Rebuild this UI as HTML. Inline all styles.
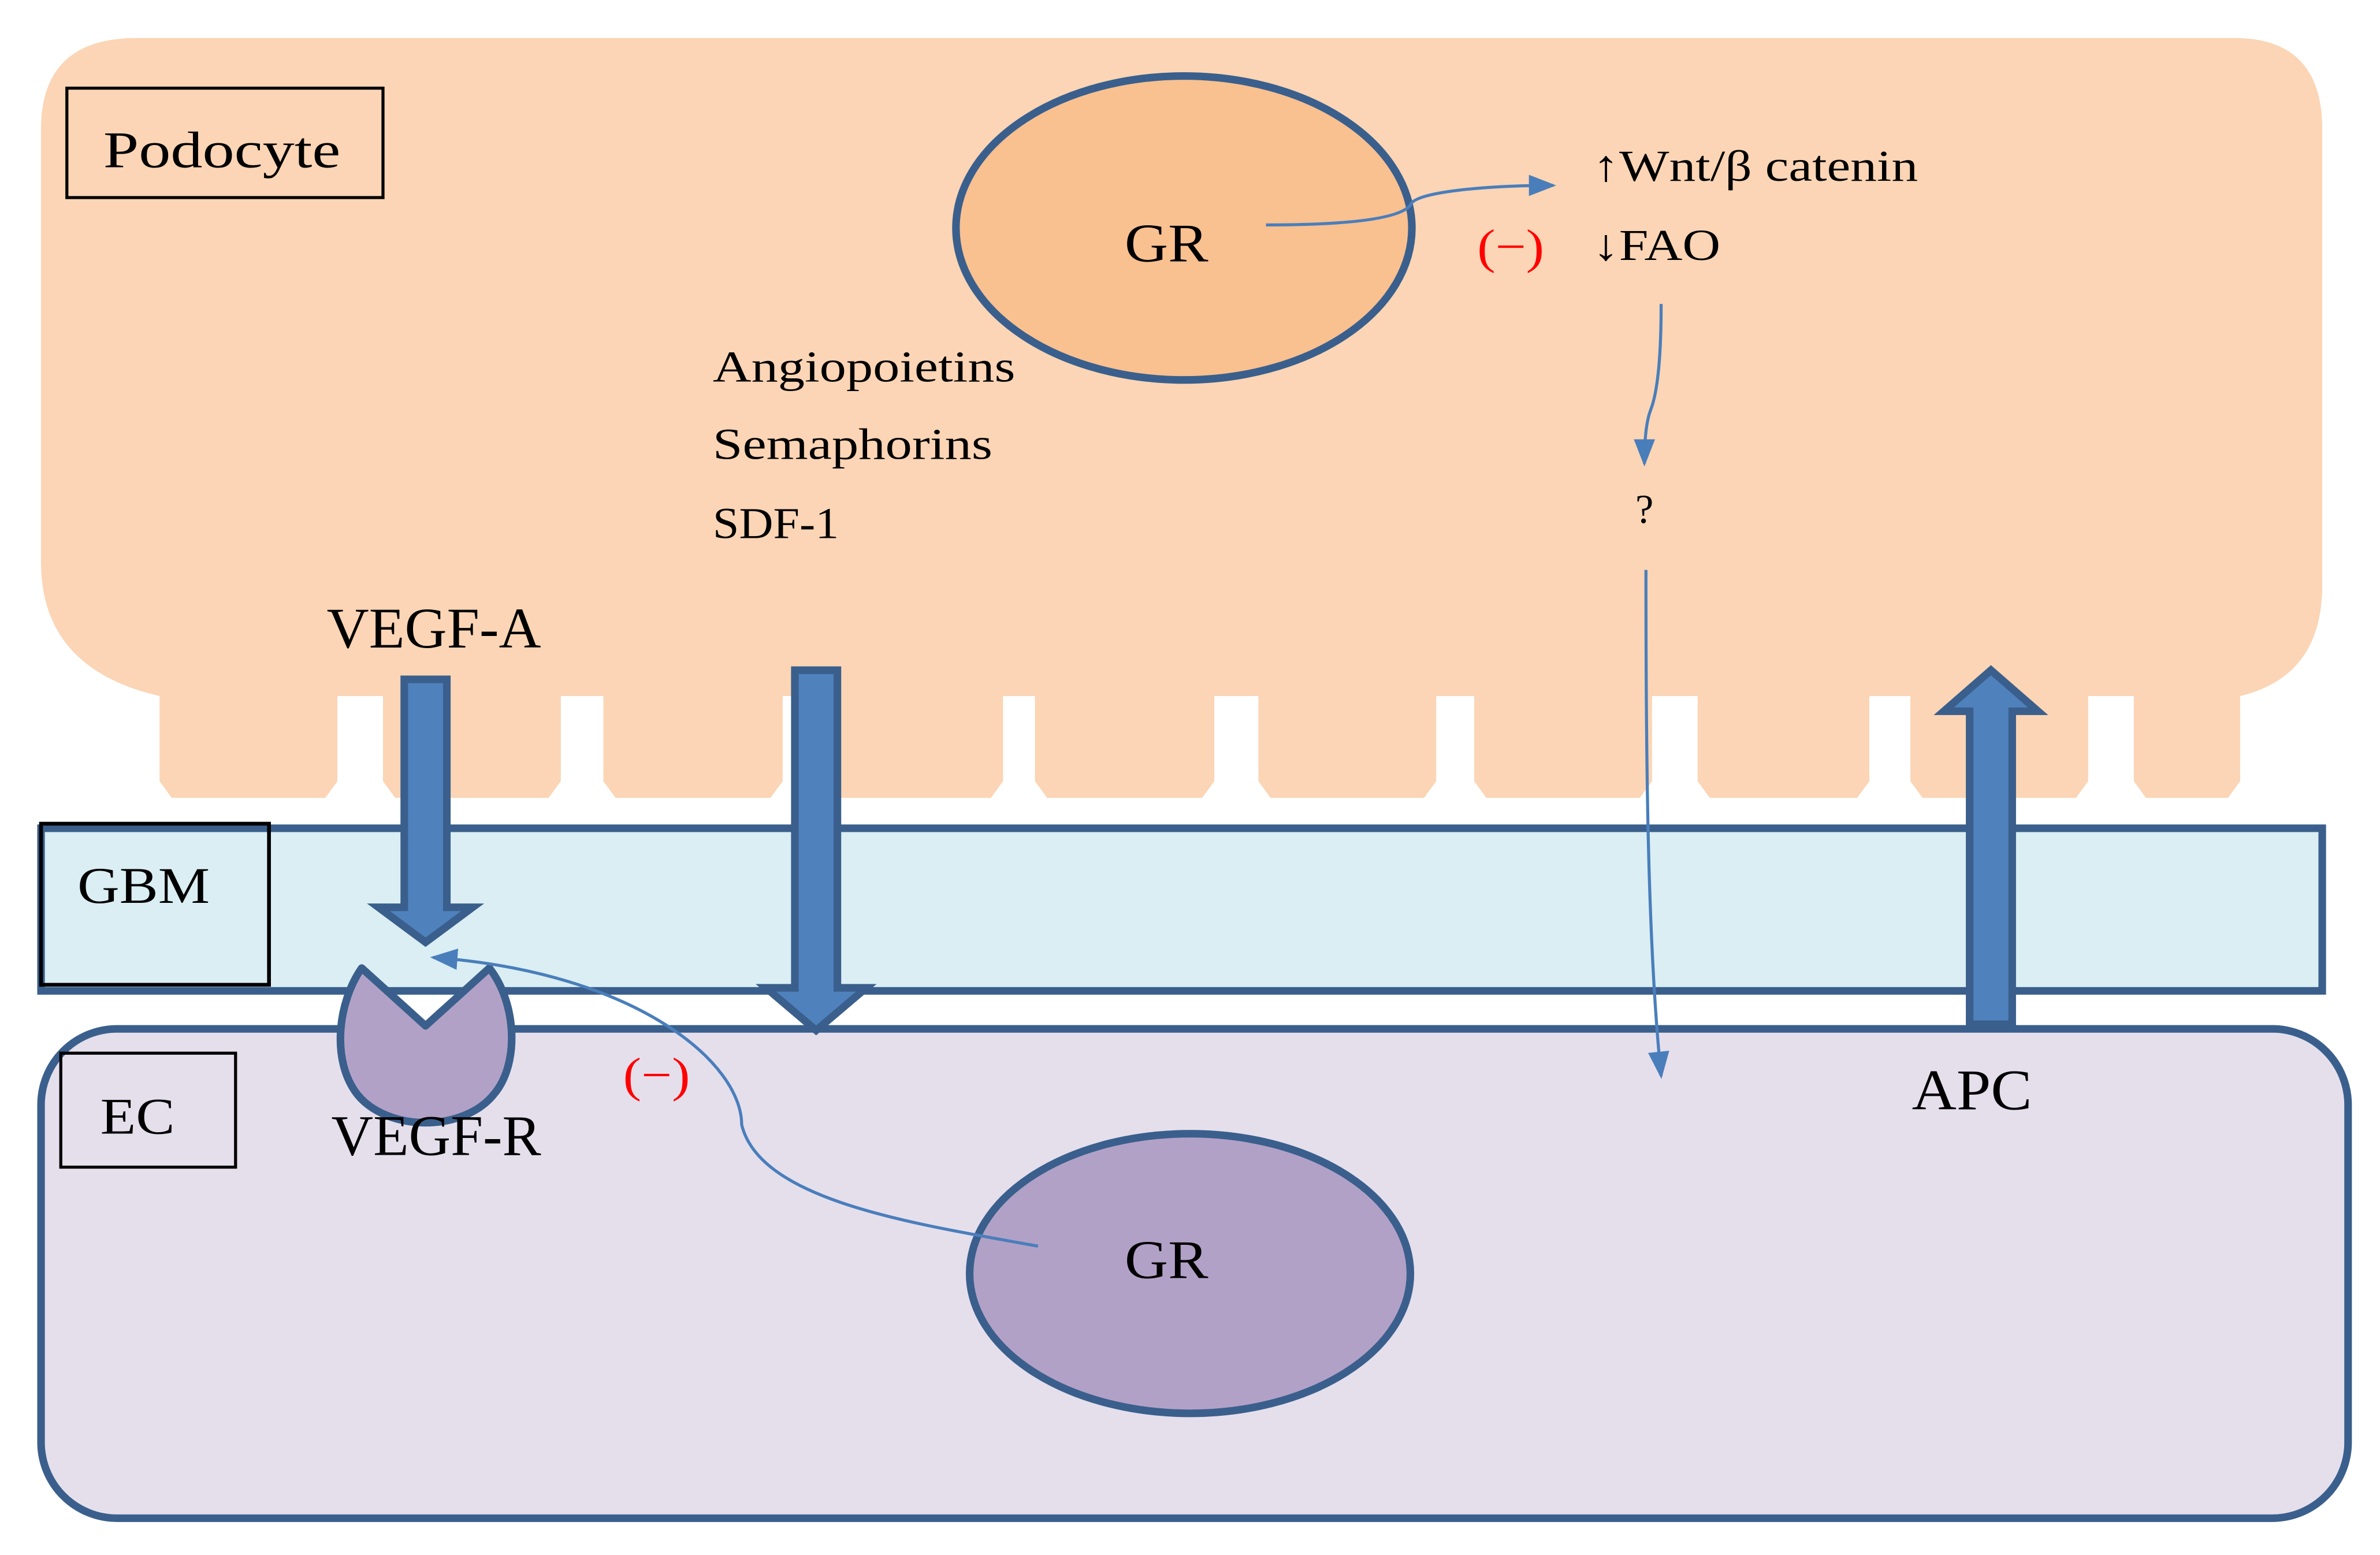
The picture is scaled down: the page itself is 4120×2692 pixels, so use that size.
<!DOCTYPE html>
<html><head><meta charset="utf-8"><style>html,body{margin:0;padding:0;background:#fff}svg{display:block}</style></head>
<body>
<svg width="4120" height="2692" viewBox="0 0 1566 1023.2" xmlns="http://www.w3.org/2000/svg" font-family="'Liberation Serif', serif">
<defs>
<marker id="ah2" markerWidth="18" markerHeight="14" refX="16" refY="7" orient="auto" markerUnits="userSpaceOnUse"><path d="M0,0 L18,7 L0,14 z" fill="#4A7EBB"/></marker>
</defs>
<path d="M90,25 H1470 Q1528,25 1528,85 V385 Q1528,445 1474,458 L1474,514 1466,525 1412,525 1404,514 1404,458 1374,458 1374,514 1366,525 1265,525 1257,514 1257,458 1230,458 1230,514 1222,525 1125,525 1117,514 1117,458 1087,458 1087,514 1079,525 978,525 970,514 970,458 945,458 945,514 937,525 836,525 828,514 828,458 799,458 799,514 791,525 689,525 681,514 681,458 660,458 660,514 652,525 551,525 543,514 543,458 515,458 515,514 507,525 405,525 397,514 397,458 369,458 369,514 361,525 260,525 252,514 252,458 222,458 222,514 214,525 113,525 105,514 105,458 Q27,440 27,370 V85 Q27,25 90,25 Z" fill="#FBD5B5"/>
<rect x="27" y="545" width="1501" height="107" fill="#DAEEF3" stroke="#3A5F8C" stroke-width="5"/>
<rect x="27" y="542" width="150" height="106" fill="none" stroke="#000" stroke-width="2.5"/>
<text x="51" y="594" font-size="34" textLength="87" lengthAdjust="spacingAndGlyphs">GBM</text>
<rect x="27" y="677" width="1518" height="322" rx="50" fill="#E5DFEC" stroke="#3A5F8C" stroke-width="5"/>
<rect x="40" y="693" width="115" height="75" fill="none" stroke="#000" stroke-width="2"/>
<text x="66" y="746" font-size="34" textLength="49" lengthAdjust="spacingAndGlyphs">EC</text>
<rect x="44" y="58" width="208" height="72" fill="none" stroke="#000" stroke-width="2"/>
<text x="68" y="110" font-size="34" textLength="156" lengthAdjust="spacingAndGlyphs">Podocyte</text>
<ellipse cx="779" cy="150" rx="150" ry="100" fill="#F9C090" stroke="#3A5F8C" stroke-width="5"/>
<text x="740" y="172" font-size="36" textLength="55" lengthAdjust="spacingAndGlyphs">GR</text>
<path d="M833,148 C880,148 920,145 928,135 C930,126 980,122 1022,122" fill="none" stroke="#4A7EBB" stroke-width="2" marker-end="url(#ah2)"/>
<text x="1048" y="119" font-size="29" textLength="214" lengthAdjust="spacingAndGlyphs">↑Wnt/β catenin</text>
<text x="1048" y="171" font-size="29" textLength="84" lengthAdjust="spacingAndGlyphs">↓FAO</text>
<text x="972" y="173" font-size="32" fill="#FF0000" textLength="44" lengthAdjust="spacingAndGlyphs">(−)</text>
<path d="M1093,200 C1093,240 1090,260 1086,270 C1083,278 1082,290 1082,305" fill="none" stroke="#4A7EBB" stroke-width="2" marker-end="url(#ah2)"/>
<text x="1082" y="344" font-size="27" text-anchor="middle">?</text>
<path d="M1083,375 C1083,500 1084,620 1093,708" fill="none" stroke="#4A7EBB" stroke-width="2" marker-end="url(#ah2)"/>
<text x="469" y="251" font-size="29" textLength="199" lengthAdjust="spacingAndGlyphs">Angiopoietins</text>
<text x="469" y="302" font-size="29" textLength="184" lengthAdjust="spacingAndGlyphs">Semaphorins</text>
<text x="469" y="354" font-size="29" textLength="83" lengthAdjust="spacingAndGlyphs">SDF-1</text>
<text x="215" y="426" font-size="38" textLength="141" lengthAdjust="spacingAndGlyphs">VEGF-A</text>
<path d="M266,447 H294 V597 H311 L280,620 L249,597 H266 Z" fill="#4F81BD" stroke="#3A5F8C" stroke-width="5"/>
<path d="M523,441 H551 V650 H570 L537,678 L504,650 H523 Z" fill="#4F81BD" stroke="#3A5F8C" stroke-width="5"/>
<path d="M1296,674 H1324 V468 H1341 L1310,441 L1279,468 H1296 Z" fill="#4F81BD" stroke="#3A5F8C" stroke-width="5"/>
<text x="1258" y="730" font-size="38" textLength="79" lengthAdjust="spacingAndGlyphs">APC</text>
<path d="M238,637 L280,675 L322,637 C340,660 342,700 325,720 C305,745 255,745 235,720 C218,698 222,660 238,637 Z" fill="#B2A1C7" stroke="#3A5F8C" stroke-width="5" stroke-linejoin="round"/>
<text x="218" y="760" font-size="38" textLength="138" lengthAdjust="spacingAndGlyphs">VEGF-R</text>
<ellipse cx="783" cy="838" rx="145" ry="92" fill="#B2A1C7" stroke="#3A5F8C" stroke-width="5"/>
<text x="740" y="841" font-size="36" textLength="55" lengthAdjust="spacingAndGlyphs">GR</text>
<path d="M683,820 C600,805 500,790 488,740 C488,700 420,640 285,630" fill="none" stroke="#4A7EBB" stroke-width="2" marker-end="url(#ah2)"/>
<text x="410" y="718" font-size="32" fill="#FF0000" textLength="44" lengthAdjust="spacingAndGlyphs">(−)</text>
</svg>
</body></html>
